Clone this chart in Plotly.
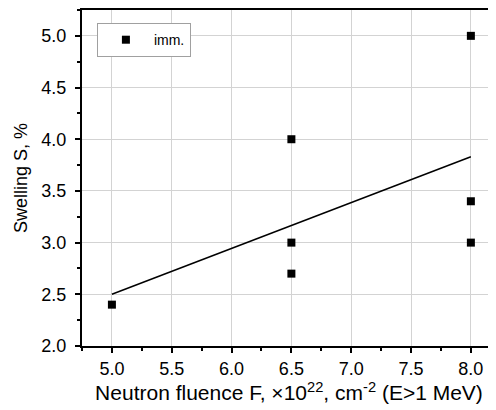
import plotly.graph_objects as go

fluence = [5.0, 6.5, 6.5, 6.5, 8.0, 8.0, 8.0]
swelling = [2.4, 4.0, 3.0, 2.7, 5.0, 3.4, 3.0]
fit_x = [5.0, 8.0]
fit_y = [2.5, 3.83]
x_ticks = [5.0, 5.5, 6.0, 6.5, 7.0, 7.5, 8.0]
y_ticks = [2.0, 2.5, 3.0, 3.5, 4.0, 4.5, 5.0]

fig = go.Figure()
fig.add_trace(go.Scatter(x=fit_x, y=fit_y, mode="lines", line=dict(color="black", width=1.5),
                         showlegend=False))
fig.add_trace(go.Scatter(x=fluence, y=swelling, mode="markers", name="imm.",
                         marker=dict(symbol="square", size=8, color="black")))

font = "Liberation Sans, Arial, sans-serif"
# page body has an 8px margin: figure is sized/offset to compensate
fig.update_layout(
    width=488, height=402,
    margin=dict(l=74, r=0, t=2, b=64),
    plot_bgcolor="white", paper_bgcolor="white",
    font=dict(family=font, color="black"),
    legend=dict(x=0.036, y=0.961, xanchor="left", yanchor="top",
                bordercolor="#a0a0a0", borderwidth=1, bgcolor="white",
                font=dict(size=14), itemwidth=46, tracegroupgap=0),
)
fig.update_xaxes(
    range=[4.75, 8.21], tickvals=x_ticks, ticktext=[f"{v:.1f}" for v in x_ticks],
    showline=True, linecolor="black", linewidth=2, mirror=True,
    ticks="outside", ticklen=5, tickwidth=2, tickcolor="black",
    minor=dict(dtick=0.25, tick0=4.75, ticks="outside", ticklen=3, tickwidth=2, tickcolor="black", showgrid=False),
    showgrid=True, gridcolor="#d3d3d3", gridwidth=1, zeroline=False,
    tickfont=dict(size=18),
    title=dict(text="Neutron fluence F, \u00d710<sup>22</sup>, cm<sup>-2</sup> (E>1 MeV)", font=dict(size=21), standoff=7),
)
fig.update_yaxes(
    range=[2.0, 5.25], tickvals=y_ticks, ticktext=[f"{v:.1f}" for v in y_ticks],
    showline=True, linecolor="black", linewidth=2, mirror=False,
    ticks="outside", ticklen=5, tickwidth=2, tickcolor="black",
    minor=dict(dtick=0.25, tick0=2.0, ticks="outside", ticklen=3, tickwidth=2, tickcolor="black", showgrid=False),
    showgrid=True, gridcolor="#d3d3d3", gridwidth=1, zeroline=False,
    tickfont=dict(size=18), ticklabelstandoff=5,
    title=dict(text="Swelling S, %", font=dict(size=18), standoff=9),
)
fig.write_html("out.html")
